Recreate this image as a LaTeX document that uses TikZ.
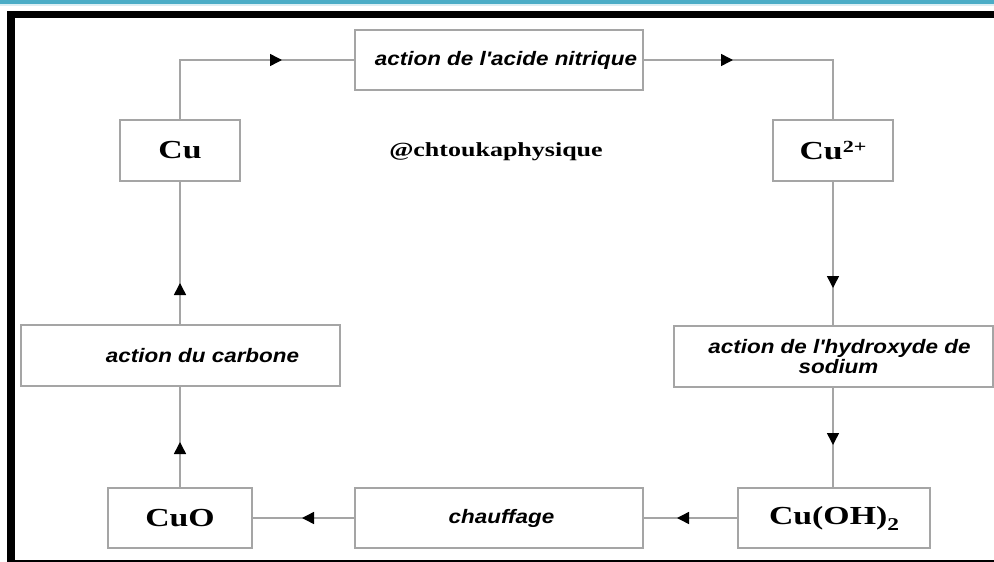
\documentclass[tikz,border=0pt]{standalone}
\usepackage{fontspec}
\usetikzlibrary{arrows.meta,decorations.markings}
\newfontfamily\chemfont[FakeStretch=1.3]{Liberation Serif}
\newfontfamily\labfont[FakeStretch=1.15]{Liberation Sans}
\definecolor{boxgray}{RGB}{165,165,165}
\definecolor{topblue}{RGB}{75,172,198}
\definecolor{lightblue}{RGB}{220,238,243}
\tikzset{
  boxnode/.style={draw=boxgray, line width=1.5pt, fill=white, outer sep=0pt, inner sep=0pt},
  chembox/.style={boxnode, font=\chemfont\bfseries\fontsize{26}{28}\selectfont},
  labbox/.style={boxnode, font=\labfont\bfseries\itshape\fontsize{19.5}{20.5}\selectfont, align=center},
  conn/.style={draw=boxgray, line width=1.5pt,
    postaction={decorate},
    decoration={markings, mark=at position #1 with {\arrow[black]{Triangle[length=12pt,width=12pt]}}}},
}
\begin{document}
\begin{tikzpicture}[x=1pt,y=-1pt]
\useasboundingbox (0,0) rectangle (994,562);
\fill[white] (0,0) rectangle (994,562);
% frame
\fill[topblue] (0,0) rectangle (994,4);
\fill[lightblue] (0,4) rectangle (994,5.5);
\fill[black] (7,11) rectangle (994,18);
\fill[black] (7,11) rectangle (15,562);
\fill[black] (15,559.5) rectangle (994,562);
% nodes
\node[chembox, minimum width=120pt, minimum height=61pt] (cu) at (180,150.5) {Cu};
\node[labbox, minimum width=288pt, minimum height=60pt] (nit) at (499,60) {\hspace*{14pt}action de l'acide nitrique};
\node[chembox, minimum width=120pt, minimum height=61pt] (cu2) at (833,150.5) {Cu\raisebox{7pt}{\fontsize{17}{17}\selectfont 2+}};
\node[labbox, minimum width=319pt, minimum height=61pt] (hyd) at (833.5,356.5) {\hspace*{12pt}action de l'hydroxyde de\\\hspace*{10pt}sodium};
\node[chembox, minimum width=192pt, minimum height=60pt] (cuoh) at (834,518) {Cu(OH)\raisebox{-6pt}{\fontsize{18}{18}\selectfont 2}};
\node[labbox, minimum width=288pt, minimum height=60pt] (chauf) at (499,518) {\hspace*{5pt}chauffage};
\node[chembox, minimum width=144pt, minimum height=60pt] (cuo) at (180,518) {CuO};
\node[labbox, minimum width=319pt, minimum height=61pt] (carb) at (180.5,355.5) {\hspace*{44pt}action du carbone};
\node[font=\chemfont\bfseries\fontsize{20}{22}\selectfont] (wm) at (496,152) {@chtoukaphysique};
% connectors
\draw[conn=162pt] (cu.north) |- (nit.west);
\draw[conn=90pt] (nit.east) -| (cu2.north);
\draw[conn=107pt] (cu2.south) -- (hyd.north -| cu2.south);
\draw[conn=58pt] (hyd.south -| cu2.south) -- (cuoh.north -| cu2.south);
\draw[conn=61pt] (cuoh.west) -- (chauf.east);
\draw[conn=53pt] (chauf.west) -- (cuo.east);
\draw[conn=46pt] (cuo.north) -- (carb.south -| cuo.north);
\draw[conn=42pt] (carb.north -| cu.south) -- (cu.south);
\end{tikzpicture}
\end{document}
